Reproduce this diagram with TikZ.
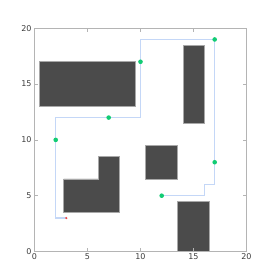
\documentclass[tikz,border=0pt]{standalone}
\usepackage{fontspec}
\setmainfont{DejaVu Sans}
\usetikzlibrary{positioning}
\definecolor{mapobst}{HTML}{4B4B4B}
\definecolor{mapedge}{HTML}{A8A8A8}
\definecolor{mapframe}{HTML}{B4B4B4}
\definecolor{mappath}{HTML}{C4D7F7}
\definecolor{mapway}{HTML}{12CC74}
\definecolor{mapstart}{HTML}{F04848}
\definecolor{maptext}{HTML}{3C3C3C}
\tikzset{
  obstacle/.style={fill=mapobst,draw=mapedge,line width=.8pt},
  frame/.style={draw=mapframe,line width=.8pt},
  tickmark/.style={draw=mapframe,line width=.5pt},
  route/.style={draw=mappath,line width=1.1pt},
  waypt/.style={circle,fill=mapway,inner sep=0pt,minimum size=4.6pt},
  startpt/.style={circle,fill=mapstart,inner sep=0pt,minimum size=2.4pt},
  ticklbl/.style={font=\fontsize{8}{9}\selectfont,text=maptext,inner sep=.6pt},
}
\begin{document}
\begin{tikzpicture}[x=10.6pt,y=11.16pt]
  \useasboundingbox (-3.255,-2.554) rectangle (22.594,22.536);

  % obstacles
  \draw[obstacle] (0.5,13) rectangle (9.5,17);
  \draw[obstacle] (14,11.5) rectangle (16,18.5);
  \draw[obstacle] (10.5,6.5) rectangle (13.5,9.5);
  \draw[obstacle] (13.5,0) rectangle (16.5,4.5);
  \draw[obstacle] (2.75,3.5) -- (8,3.5) -- (8,8.5) -- (6,8.5) -- (6,6.5) -- (2.75,6.5) -- cycle;

  % route corners
  \coordinate (c1) at (2,3);
  \coordinate (c2) at (2,12);
  \coordinate (c3) at (10,12);
  \coordinate (c4) at (10,19);
  \coordinate (c5) at (17,6);
  \coordinate (c6) at (16,6);
  \coordinate (c7) at (16,5);
  \coordinate (p0) at (3,3);
  \coordinate (p4) at (17,19);
  \coordinate (p6) at (12,5);
  \draw[route] (p0) -- (c1) -- (c2) -- (c3) -- (c4) -- (p4) -- (c5) -- (c6) -- (c7) -- (p6);

  % waypoints
  \node[startpt] (s) at (p0) {};
  \node[waypt] (w1) at (2,10) {};
  \node[waypt] (w2) at (7,12) {};
  \node[waypt] (w3) at (10,17) {};
  \node[waypt] (w4) at (p4) {};
  \node[waypt] (w5) at (17,8) {};
  \node[waypt] (w6) at (p6) {};

  % axes
  \draw[frame] (0,0) rectangle (20,20);
  \foreach \t in {5,10,15} {
    \draw[tickmark] (\t,0) -- (\t,0.35);
    \draw[tickmark] (\t,20) -- (\t,19.65);
    \draw[tickmark] (0,\t) -- (0.35,\t);
    \draw[tickmark] (20,\t) -- (19.65,\t);
  }
  \foreach \t in {0,5,10,15,20} {
    \node[ticklbl,anchor=north] (xl\t) at (\t,-0.1) {\t};
    \node[ticklbl,anchor=east] (yl\t) at (-0.2,\t) {\t};
  }
\end{tikzpicture}
\end{document}
